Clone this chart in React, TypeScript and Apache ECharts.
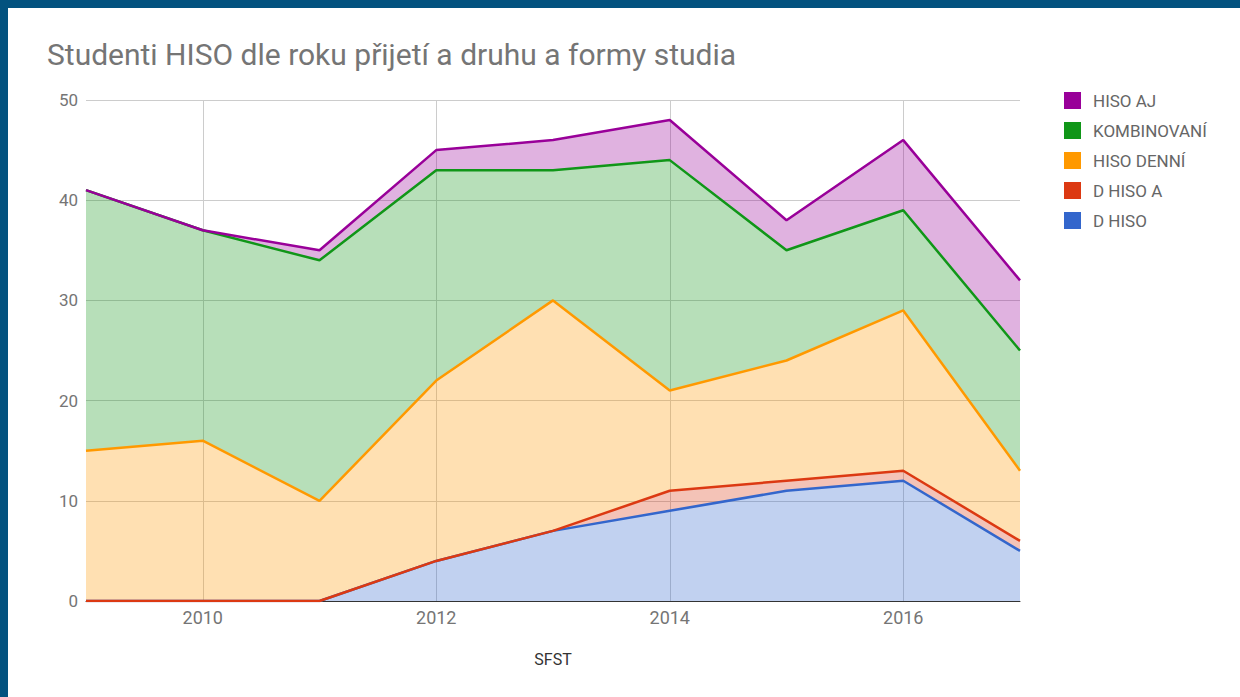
import React, { useEffect, useRef } from "react";
import * as echarts from "echarts";

const years = ["2009", "2010", "2011", "2012", "2013", "2014", "2015", "2016", "2017"];
const dHiso = [0, 0, 0, 4, 7, 9, 11, 12, 5];
const dHisoA = [0, 0, 0, 0, 0, 2, 1, 1, 1];
const hisoDenni = [15, 16, 10, 18, 23, 10, 12, 16, 7];
const kombinovani = [26, 21, 24, 21, 13, 23, 11, 10, 12];
const hisoAj = [0, 0, 1, 2, 3, 4, 3, 7, 7];

const seriesDefs = [
  { name: "D HISO", data: dHiso, color: "#3366cc" },
  { name: "D HISO A", data: dHisoA, color: "#dc3912" },
  { name: "HISO DENNÍ", data: hisoDenni, color: "#ff9900" },
  { name: "KOMBINOVANÍ", data: kombinovani, color: "#109618" },
  { name: "HISO AJ", data: hisoAj, color: "#990099" },
];

const legendOrder = ["HISO AJ", "KOMBINOVANÍ", "HISO DENNÍ", "D HISO A", "D HISO"];

export default function App() {
  const ref = useRef<HTMLDivElement>(null);
  useEffect(() => {
    if (!ref.current) return;
    const chart = echarts.init(ref.current, null, { renderer: "svg" });
    const evenYear = (_i: number, v: string) => Number(v) % 2 === 0;
    chart.setOption({
      animation: false,
      backgroundColor: "#ffffff",
      textStyle: { fontFamily: "Roboto" },
      title: {
        text: "Studenti HISO dle roku přijetí a druhu a formy studia",
        left: 34,
        top: 26,
        textStyle: { fontFamily: "Roboto", fontSize: 30, fontWeight: "normal", color: "#757575" },
      },
      legend: {
        orient: "vertical",
        left: 1051,
        top: 79,
        itemWidth: 17,
        itemHeight: 17,
        itemGap: 13,
        icon: "rect",
        data: legendOrder,
        textStyle: { fontFamily: "Roboto", fontSize: 17, lineHeight: 17, color: "#666666", padding: [0, 0, 0, 7] },
      },
      grid: { left: 78, right: 220, top: 92, bottom: 96 },
      xAxis: {
        type: "category",
        data: years,
        boundaryGap: false,
        name: "SFST",
        nameLocation: "middle",
        nameGap: 50,
        nameTextStyle: { fontFamily: "Roboto", fontSize: 16, color: "#333333" },
        axisLine: { show: true, lineStyle: { color: "#333333", width: 1 } },
        axisTick: { show: false },
        axisLabel: { interval: evenYear, fontSize: 18, color: "#757575", margin: 7 },
        splitLine: { show: true, interval: evenYear, lineStyle: { color: "#cccccc", width: 1 } },
      },
      yAxis: {
        type: "value",
        min: 0,
        max: 50,
        interval: 10,
        axisLine: { show: false },
        axisTick: { show: false },
        axisLabel: { fontSize: 17, color: "#757575", margin: 8 },
        splitLine: { show: true, lineStyle: { color: "#cccccc", width: 1 } },
      },
      series: seriesDefs.map((s) => ({
        name: s.name,
        type: "line",
        stack: "total",
        data: s.data,
        showSymbol: false,
        symbol: "none",
        color: s.color,
        lineStyle: { color: s.color, width: 2.5 },
        areaStyle: { color: s.color, opacity: 0.3 },
      })),
    });
    return () => chart.dispose();
  }, []);
  return (
    <div style={{ position: "fixed", left: 0, top: 0, width: 1240, height: 697, background: "#03527f" }}>
      <div ref={ref} style={{ position: "absolute", left: 8, top: 8, width: 1232, height: 689, background: "#ffffff" }} />
    </div>
  );
}
